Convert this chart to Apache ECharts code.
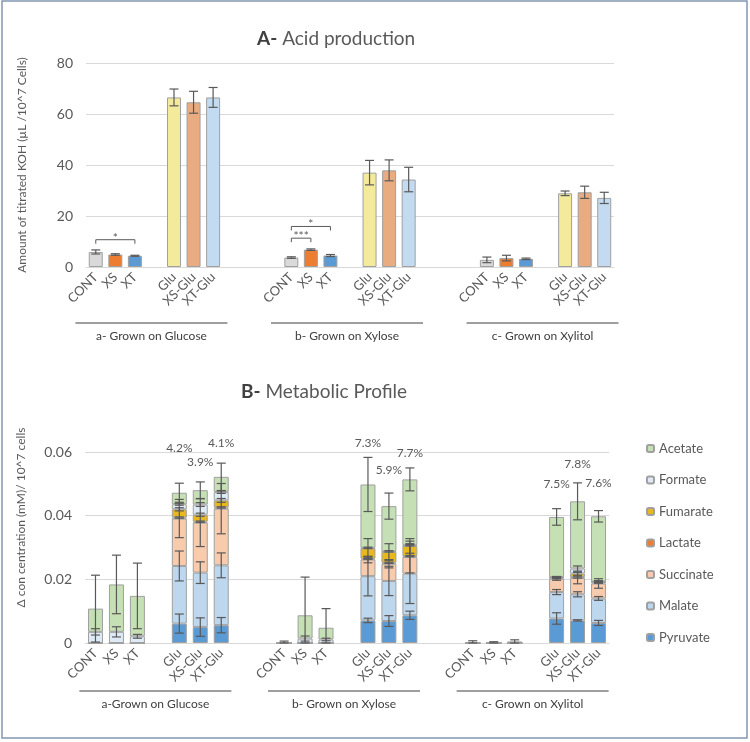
<!DOCTYPE html>
<html>
<head>
<meta charset="utf-8">
<script src="https://cdn.jsdelivr.net/npm/echarts@6/dist/echarts.min.js"></script>
<style>
  html, body { margin: 0; padding: 0; background: #fff; }
  #main { width: 750px; height: 742px; }
</style>
</head>
<body>
<div id="main"></div>
<script>
const treatments = ['CONT', 'XS', 'XT', 'Glu', 'XS-Glu', 'XT-Glu'];
const groupNamesA = ['a- Grown on Glucose', 'b- Grown on Xylose', 'c- Grown on Xylitol'];
const groupNamesB = ['a-Grown on Glucose', 'b- Grown on Xylose', 'c- Grown on Xylitol'];

// A - acid production, one array per growth substrate (CONT, XS, XT, Glu, XS-Glu, XT-Glu)
const acidGlucose = [5.9, 4.9, 4.4, 66.5, 64.6, 66.5];
const acidXylose = [3.7, 6.8, 4.5, 37.0, 37.9, 34.3];
const acidXylitol = [2.8, 3.5, 3.2, 28.9, 29.3, 27.1];
const acidGlucoseErr = [0.8, 0.3, 0.2, 3.3, 4.3, 3.9];
const acidXyloseErr = [0.3, 0.3, 0.4, 4.8, 4.1, 4.8];
const acidXylitolErr = [1.1, 1.1, 0.3, 0.9, 2.4, 2.2];
// significance brackets: group, from, to, bracket level, stars
const sigGroup = [0, 1, 1];
const sigFrom = ['CONT', 'CONT', 'CONT'];
const sigTo = ['XT', 'XT', 'XS'];
const sigLevel = [10.7, 15.9, 11.3];
const sigMark = ['*', '*', '***'];

// B - metabolic profile, 18 values = glucose(6), xylose(6), xylitol(6)
const metNames = ['Pyruvate', 'Malate', 'Succinate', 'Lactate', 'Fumarate', 'Formate', 'Acetate'];
const pyruvate  = [0, 0, 0, 0.0061, 0.0050, 0.0056,  0, 0, 0, 0.0071, 0.0069, 0.0087,  0, 0, 0, 0.0077, 0.0071, 0.0063];
const malate    = [0, 0, 0, 0.0181, 0.0171, 0.0188,  0, 0, 0, 0.0139, 0.0126, 0.0131,  0, 0, 0, 0.0083, 0.0082, 0.0077];
const succinate = [0, 0, 0, 0.0149, 0.0157, 0.0178,  0, 0, 0, 0.0052, 0.0054, 0.0052,  0, 0, 0, 0.0042, 0.0051, 0.0047];
const lactate   = [0, 0, 0, 0.0003, 0.0003, 0.0004,  0, 0, 0, 0.0003, 0.0003, 0.0003,  0, 0, 0, 0.0003, 0.0003, 0.0004];
const fumarate  = [0, 0, 0, 0.0026, 0.0022, 0.0022,  0, 0, 0, 0.0032, 0.0034, 0.0032,  0, 0, 0, 0.0001, 0.0011, 0.0001];
const formate   = [0.0035, 0.0035, 0.0021, 0.0016, 0.0032, 0.0026,  0, 0.0014, 0.0011, 0.0002, 0.0002, 0.0002,  0, 0, 0, 0.0001, 0.0016, 0.0001];
const acetate   = [0.0073, 0.0149, 0.0127, 0.0036, 0.0045, 0.0048,  0.0001, 0.0073, 0.0037, 0.0199, 0.0142, 0.0207,  0.0002, 0.0002, 0.0005, 0.0189, 0.0211, 0.0205];

const pyruvateErr  = [0, 0, 0, 0.0030, 0.0029, 0.0024,  0, 0, 0, 0.0007, 0.0017, 0.0013,  0, 0, 0, 0.0018, 0.0002, 0.0008];
const malateErr    = [0, 0, 0, 0.0047, 0.0034, 0.0039,  0, 0, 0, 0.0062, 0.0046, 0.0094,  0, 0, 0, 0.0008, 0.0008, 0.0006];
const succinateErr = [0, 0, 0, 0.0060, 0.0075, 0.0079,  0, 0, 0, 0.0010, 0.0013, 0.0050,  0, 0, 0, 0.0005, 0.0018, 0.0015];
const lactateErr   = [0, 0, 0, 0.0002, 0.0002, 0.0002,  0, 0, 0, 0.0002, 0.0002, 0.0002,  0, 0, 0, 0.0003, 0.0003, 0.0003];
const fumarateErr  = [0, 0, 0, 0.0005, 0.0005, 0.0006,  0, 0, 0, 0.0031, 0.0026, 0.0023,  0, 0, 0, 0.0002, 0.0005, 0.0003];
const formateErr   = [0.0010, 0.0016, 0.0006, 0.0003, 0.0006, 0.0004,  0, 0.0008, 0.0004, 0.0002, 0.0002, 0.0002,  0, 0, 0, 0.0002, 0.0008, 0.0002];
const acetateErr   = [0.0105, 0.0092, 0.0103, 0.0030, 0.0026, 0.0043,  0.0005, 0.0120, 0.0060, 0.0085, 0.0041, 0.0036,  0.0005, 0.0002, 0.0005, 0.0026, 0.0058, 0.0018];

// percentage labels above Glu / XS-Glu / XT-Glu of each group
const pctLabels = ['4.2%', '3.9%', '4.1%', '7.3%', '5.9%', '7.7%', '7.5%', '7.8%', '7.6%'];

// styles
const FONT = 'Lato';
const TXT = '#595959';
const treatColors = ['#d9d9d9', '#ed7d31', '#5b9bd5', '#f3ea9c', '#e9ab80', '#c2dbf0'];
const metColors = ['#5b9bd5', '#bdd7ee', '#f8cbad', '#ed7d31', '#e8b81c', '#deebf7', '#c5e0b4'];
const pctLift = [35, 20, 20, 14, 23, 15, 25, 19, 27];

function buildSlots(innerGap, outerGap) {
  const cats = [], pos = [];
  for (let g = 0; g < 3; g++) {
    if (g > 0) for (let k = 0; k < outerGap; k++) cats.push('');
    const row = [];
    treatments.forEach((t, i) => {
      if (i === 3) for (let k = 0; k < innerGap; k++) cats.push('');
      row.push(cats.length);
      cats.push(t);
    });
    pos.push(row);
  }
  return { cats, pos };
}
const slotsA = buildSlots(1, 3);
const slotsB = buildSlots(1, 2);

// ---- A data
const acidMeans = [acidGlucose, acidXylose, acidXylitol];
const acidErrs = [acidGlucoseErr, acidXyloseErr, acidXylitolErr];
const acidBar = slotsA.cats.map(() => '-');
const acidErrData = [];
slotsA.pos.forEach((row, g) => row.forEach((slot, i) => {
  const v = acidMeans[g][i], e = acidErrs[g][i];
  acidBar[slot] = { value: v, itemStyle: { color: treatColors[i] } };
  acidErrData.push([slot, v - e, v + e]);
}));
const sigData = sigGroup.map((g, k) => [
  slotsA.pos[g][treatments.indexOf(sigFrom[k])],
  sigLevel[k],
  slotsA.pos[g][treatments.indexOf(sigTo[k])],
  k
]);

// ---- B data
const metVals = [pyruvate, malate, succinate, lactate, fumarate, formate, acetate];
const metErrs = [pyruvateErr, malateErr, succinateErr, lactateErr, fumarateErr, formateErr, acetateErr];
const flatSlotsB = slotsB.pos.flat();
const cum = flatSlotsB.map(() => 0);
const metSeriesData = [];
const metErrData = [];
metVals.forEach((vals, m) => {
  const d = slotsB.cats.map(() => '-');
  vals.forEach((v, j) => {
    d[flatSlotsB[j]] = v;
    cum[j] += v;
    const e = metErrs[m][j];
    if (v > 0 || e > 0) metErrData.push([flatSlotsB[j], Math.max(0, cum[j] - e), cum[j] + e]);
  });
  metSeriesData.push(d);
});
const pctData = [];
[0, 1, 2].forEach(g => [3, 4, 5].forEach((i, k) => {
  const j = g * 6 + i;
  const accTop = cum[j] + acetateErr[j];
  pctData.push([flatSlotsB[j], accTop, g * 3 + k]);
}));

function errorItem(params, api) {
  const x = api.value(0);
  const p1 = api.coord([x, api.value(2)]);
  const p2 = api.coord([x, api.value(1)]);
  const w = 4.5;
  const st = { stroke: '#595959', lineWidth: 1.2 };
  return {
    type: 'group',
    children: [
      { type: 'line', shape: { x1: p1[0], y1: p1[1], x2: p2[0], y2: p2[1] }, style: st },
      { type: 'line', shape: { x1: p1[0] - w, y1: p1[1], x2: p1[0] + w, y2: p1[1] }, style: st },
      { type: 'line', shape: { x1: p2[0] - w, y1: p2[1], x2: p2[0] + w, y2: p2[1] }, style: st }
    ]
  };
}

function sigItem(params, api) {
  const a = api.coord([api.value(0), api.value(1)]);
  const b = api.coord([api.value(2), api.value(1)]);
  const k = api.value(3);
  const leg = 4;
  const st = { stroke: '#595959', lineWidth: 1, fill: null };
  return {
    type: 'group',
    children: [
      { type: 'polyline', shape: { points: [[a[0], a[1] + leg], [a[0], a[1]], [b[0], b[1]], [b[0], b[1] + leg]] }, style: st },
      { type: 'text', x: (a[0] + b[0]) / 2, y: a[1] - 2,
        style: { text: sigMark[k], fill: TXT, font: '12px ' + FONT, align: 'center', verticalAlign: 'middle' } }
    ]
  };
}

function pctItem(params, api) {
  const p = api.coord([api.value(0), api.value(1)]);
  const k = api.value(2);
  return {
    type: 'text', x: p[0], y: p[1] - pctLift[k],
    style: { text: pctLabels[k], fill: TXT, font: '12px ' + FONT, align: 'center', verticalAlign: 'middle' }
  };
}

const xAxisCommon = {
  type: 'category',
  axisTick: { show: false },
  axisLine: { lineStyle: { color: '#d9d9d9' } },
  axisLabel: { rotate: 45, interval: 0, margin: 8, color: TXT, fontFamily: FONT, fontSize: 13 },
  splitLine: { show: false }
};
const yAxisCommon = {
  type: 'value',
  axisLine: { show: false },
  axisTick: { show: false },
  splitLine: { lineStyle: { color: '#d9d9d9' } },
  axisLabel: { color: TXT, fontFamily: FONT, fontSize: 14, margin: 13 },
  nameLocation: 'middle',
  nameTextStyle: { color: TXT, fontFamily: FONT, fontSize: 12 }
};

const chart = echarts.init(document.getElementById('main'));
const option = {
  animation: false,
  textStyle: { fontFamily: FONT },
  title: [
    { text: '{b|A-} Acid production', left: 252, top: 24,
      textStyle: { fontFamily: FONT, fontSize: 19, fontWeight: 'normal', color: TXT,
        rich: { b: { fontFamily: FONT, fontSize: 19, fontWeight: 'bold', color: '#404040' } } } },
    { text: '{b|B-} Metabolic Profile', left: 236, top: 377,
      textStyle: { fontFamily: FONT, fontSize: 19, fontWeight: 'normal', color: TXT,
        rich: { b: { fontFamily: FONT, fontSize: 19, fontWeight: 'bold', color: '#404040' } } } }
  ],
  grid: [
    { left: 86, top: 63, width: 528, height: 204 },
    { left: 85, top: 452, width: 524, height: 191 }
  ],
  legend: {
    orient: 'vertical', left: 641, top: 437,
    itemWidth: 7, itemHeight: 7, itemGap: 18.5,
    data: metNames.slice().reverse(),
    textStyle: { color: TXT, fontFamily: FONT, fontSize: 13 }
  },
  xAxis: [
    Object.assign({}, xAxisCommon, { gridIndex: 0, data: slotsA.cats }),
    Object.assign({}, xAxisCommon, { gridIndex: 1, data: slotsB.cats })
  ],
  yAxis: [
    Object.assign({}, yAxisCommon, { gridIndex: 0, min: 0, max: 80, interval: 20,
      name: 'Amount of titrated KOH (µL /10^7 Cells)', nameGap: 58 }),
    Object.assign({}, yAxisCommon, { gridIndex: 1, min: 0, max: 0.06, interval: 0.02,
      name: 'Δ con centration (mM)/ 10^7 cells', nameGap: 58,
      nameTextStyle: { color: TXT, fontFamily: FONT, fontSize: 12, padding: [0, 0, 0, 60] } })
  ],
  series: [
    { type: 'bar', xAxisIndex: 0, yAxisIndex: 0, barWidth: 14, data: acidBar,
      itemStyle: { borderColor: '#a0a0a0', borderWidth: 1 } },
    { type: 'custom', xAxisIndex: 0, yAxisIndex: 0, renderItem: errorItem, data: acidErrData, z: 5 },
    { type: 'custom', xAxisIndex: 0, yAxisIndex: 0, renderItem: sigItem, data: sigData, z: 5 }
  ].concat(metNames.map((name, m) => ({
    name: name, type: 'bar', stack: 'met', xAxisIndex: 1, yAxisIndex: 1, barWidth: 15,
    data: metSeriesData[m],
    itemStyle: { color: metColors[m], borderColor: '#a0a0a0', borderWidth: 1 }
  }))).concat([
    { type: 'custom', xAxisIndex: 1, yAxisIndex: 1, renderItem: errorItem, data: metErrData, z: 5 },
    { type: 'custom', xAxisIndex: 1, yAxisIndex: 1, renderItem: pctItem, data: pctData, z: 5 }
  ])
};
chart.setOption(option);

// group captions under each block of bars, plus the outer frame
function groupGraphics(axisIndex, slots, names, lineY) {
  const out = [];
  slots.pos.forEach((row, g) => {
    const x0 = chart.convertToPixel({ xAxisIndex: axisIndex }, row[0]);
    const x1 = chart.convertToPixel({ xAxisIndex: axisIndex }, row[5]);
    const c = (x0 + x1) / 2 - 3;
    out.push({ type: 'line', shape: { x1: c - 76, y1: lineY, x2: c + 76, y2: lineY },
      style: { stroke: '#7f7f7f', lineWidth: 1.5 } });
    out.push({ type: 'text', x: c, y: lineY + 13,
      style: { text: names[g], fill: '#404040', font: '12px ' + FONT, align: 'center', verticalAlign: 'middle' } });
  });
  return out;
}
chart.setOption({
  graphic: [
    { type: 'rect', shape: { x: 2, y: 1, width: 745, height: 737 },
      style: { stroke: '#8497b0', lineWidth: 1.5, fill: null } }
  ].concat(groupGraphics(0, slotsA, groupNamesA, 323))
   .concat(groupGraphics(1, slotsB, groupNamesB, 691))
});
</script>
</body>
</html>
